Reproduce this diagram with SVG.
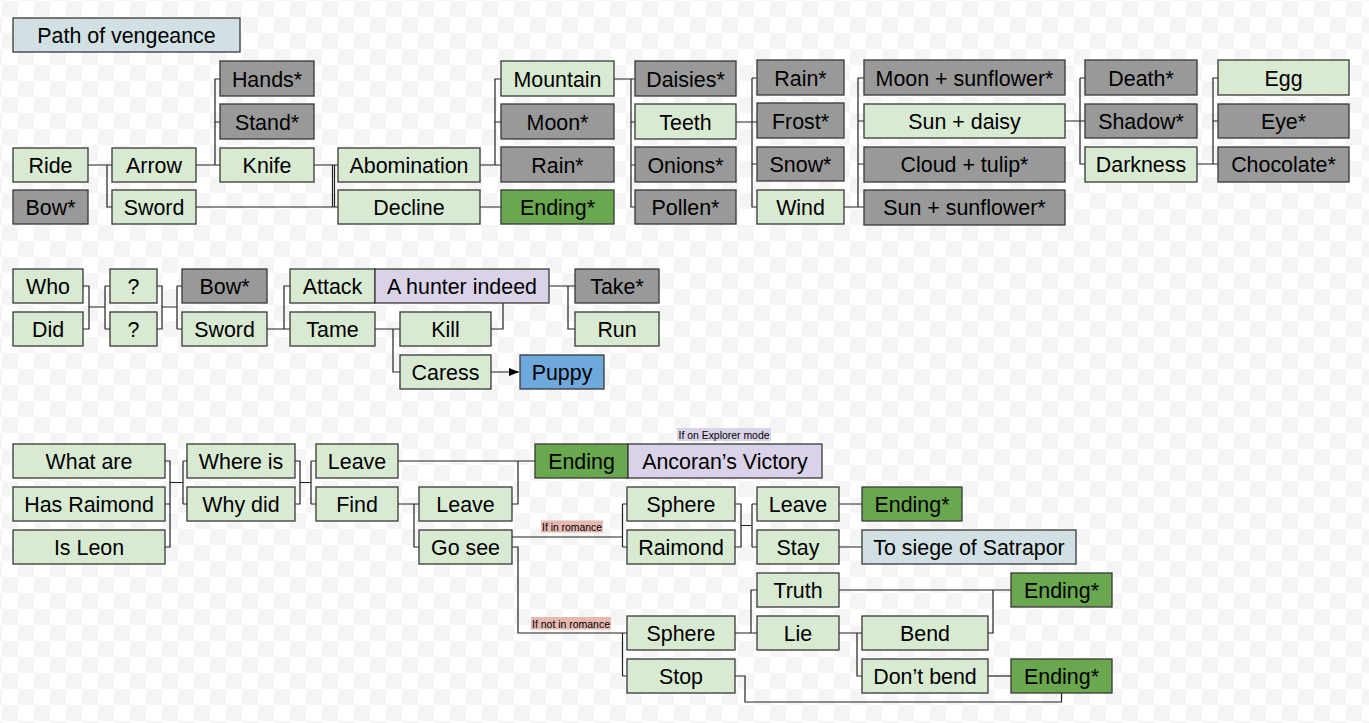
<svg xmlns="http://www.w3.org/2000/svg" width="1369" height="723" viewBox="0 0 1369 723">
<defs>
<pattern id="chk" patternUnits="userSpaceOnUse" x="2" y="1" width="32" height="32">
<rect width="32" height="32" fill="#ffffff"/>
<rect width="16" height="16" fill="#f5f5f5"/>
<rect x="16" y="16" width="16" height="16" fill="#f5f5f5"/>
</pattern>
<marker id="arr" markerUnits="userSpaceOnUse" markerWidth="12" markerHeight="10" refX="10" refY="4" orient="auto">
<path d="M0,0 L10,4 L0,8 z" fill="#000"/>
</marker>
</defs>
<style>
.n rect{stroke:#383838;stroke-width:1.3}
.g rect{fill:#d9ead3}
.x rect{fill:#999999}
.e rect{fill:#6aa84f}
.p rect{fill:#d9d2e9}
.b rect{fill:#d0e0e3}
.u rect{fill:#6fa8dc}
text{font-family:"Liberation Sans",Arial,sans-serif;font-size:21.4px;text-anchor:middle;fill:#000}
.c path{fill:none;stroke:#222;stroke-width:1.2}
.lbl text{font-size:11px}
</style>
<rect width="1369" height="723" fill="url(#chk)"/>

<g class="c" id="connectors">
<path d="M88,165 H112 M107,165 V207 H112"/>
<path d="M196,165 H220 M215,165 V79 H220 M215,122 H220"/>
<path d="M314,165 H338 M332.5,165 V207 H338 M196,207 H338 M334.5,207 V165"/>
<path d="M480,165 H501 M495,165 V79 H501 M495,122 H501 M480,207 H501"/>
<path d="M614,79 H635 M631,79 V207 H635 M631,122 H635 M631,165 H635"/>
<path d="M736,122 H757 M752,78 V207 H757 M752,78 H757 M752,164 H757"/>
<path d="M844,207 H864 M858,207 V78 H864 M858,121 H864 M858,164 H864"/>
<path d="M1065,121 H1085 M1080,78 V164 H1085 M1080,78 H1085"/>
<path d="M1197,164 H1218 M1213,164 V78 H1218 M1213,121 H1218"/>
<path d="M83,286 H89 V329 H83 M89,307 H105 M105,286 V329 M105,286 H110 M105,329 H110"/>
<path d="M157,286 H162 V329 H157 M162,307 H177 M177,286 V329 M177,286 H182 M177,329 H182"/>
<path d="M267,329 H290 M284,329 V286 H290"/>
<path d="M375,329 H400 M393,329 V372 H400"/>
<path d="M491,329 H503 V303"/>
<path d="M549,286 H575 M568,286 V329 H575"/>
<path d="M491,372 H519" marker-end="url(#arr)" style="stroke:#444"/>
<path d="M165,461 H170 V547 H165 M165,504 H170 M170,482.5 H183 M183,461 V504 M183,461 H187 M183,504 H187"/>
<path d="M295,461 H300 V504 H295 M300,482.5 H311 M311,461 V504 M311,461 H316 M311,504 H316"/>
<path d="M398,461 H535 M512,504 H518 V461"/>
<path d="M398,504 H419 M414,504 V547 H419"/>
<path d="M512,537 H622.5 M622.5,504 V547 M622.5,504 H627 M622.5,547 H627"/>
<path d="M512,547 H518 V633 H622.5 M622.5,633 V676 M622.5,633 H627 M622.5,676 H627"/>
<path d="M735,504 H741 V547 H735 M741,525.5 H752 M752,504 V547 M752,504 H757 M752,547 H757"/>
<path d="M839,504 H862 M839,547 H862"/>
<path d="M735,633 H757 M751,633 V590 H757"/>
<path d="M839,590 H1011 M988,633 H993 V590"/>
<path d="M839,633 H862 M857,633 V676 H862"/>
<path d="M988,676 H1011"/>
<path d="M735,676 H745 V702 H1061.5 V693"/>
</g>

<g class="lbl">
<g id="lbl-explorer"><rect x="677" y="428" width="94" height="13" fill="#d9d2e9"/><text x="724" y="438.5" textLength="91" lengthAdjust="spacingAndGlyphs">If on Explorer mode</text></g>
<g id="lbl-romance"><rect x="541" y="520.5" width="62" height="12" fill="#e6b8af"/><text x="572" y="530.5" textLength="60" lengthAdjust="spacingAndGlyphs">If in romance</text></g>
<g id="lbl-notromance"><rect x="531" y="617" width="80" height="12.5" fill="#e6b8af"/><text x="571" y="627.5" textLength="78" lengthAdjust="spacingAndGlyphs">If not in romance</text></g>
</g>

<g id="title" class="n b"><rect x="13" y="18" width="227" height="34"/><text x="126.5" y="43">Path of vengeance</text></g>
<g id="ride" class="n g"><rect x="13" y="148" width="75" height="34"/><text x="50.5" y="172.5">Ride</text></g>
<g id="bow1" class="n x"><rect x="13" y="190" width="75" height="34"/><text x="50.5" y="214.5">Bow*</text></g>
<g id="arrow" class="n g"><rect x="112" y="148" width="84" height="34"/><text x="154" y="172.5">Arrow</text></g>
<g id="sword1" class="n g"><rect x="112" y="190" width="84" height="34"/><text x="154" y="214.5">Sword</text></g>
<g id="hands" class="n x"><rect x="220" y="61" width="94" height="35"/><text x="267" y="86.5">Hands*</text></g>
<g id="stand" class="n x"><rect x="220" y="104" width="94" height="35"/><text x="267" y="129.5">Stand*</text></g>
<g id="knife" class="n g"><rect x="220" y="148" width="94" height="34"/><text x="267" y="172.5">Knife</text></g>
<g id="abomination" class="n g"><rect x="338" y="148" width="142" height="34"/><text x="409" y="172.5">Abomination</text></g>
<g id="decline" class="n g"><rect x="338" y="190" width="142" height="34"/><text x="409" y="214.5">Decline</text></g>
<g id="mountain" class="n g"><rect x="501" y="61" width="113" height="35"/><text x="557.5" y="86.5">Mountain</text></g>
<g id="moon" class="n x"><rect x="501" y="104" width="113" height="35"/><text x="557.5" y="129.5">Moon*</text></g>
<g id="rain1" class="n x"><rect x="501" y="147" width="113" height="35"/><text x="557.5" y="172.5">Rain*</text></g>
<g id="ending1" class="n e"><rect x="501" y="190" width="113" height="34"/><text x="557.5" y="214.5">Ending*</text></g>
<g id="daisies" class="n x"><rect x="635" y="61" width="101" height="35"/><text x="685.5" y="86.5">Daisies*</text></g>
<g id="teeth" class="n g"><rect x="635" y="104" width="101" height="35"/><text x="685.5" y="129.5">Teeth</text></g>
<g id="onions" class="n x"><rect x="635" y="147" width="101" height="35"/><text x="685.5" y="172.5">Onions*</text></g>
<g id="pollen" class="n x"><rect x="635" y="190" width="101" height="34"/><text x="685.5" y="214.5">Pollen*</text></g>
<g id="rain2" class="n x"><rect x="757" y="60" width="87" height="35"/><text x="800.5" y="85.5">Rain*</text></g>
<g id="frost" class="n x"><rect x="757" y="103" width="87" height="35"/><text x="800.5" y="128.5">Frost*</text></g>
<g id="snow" class="n x"><rect x="757" y="147" width="87" height="34"/><text x="800.5" y="171.5">Snow*</text></g>
<g id="wind" class="n g"><rect x="757" y="190" width="87" height="34"/><text x="800.5" y="214.5">Wind</text></g>
<g id="moonsun" class="n x"><rect x="864" y="60" width="201" height="35"/><text x="964.5" y="85.5">Moon + sunflower*</text></g>
<g id="sundaisy" class="n g"><rect x="864" y="104" width="201" height="34"/><text x="964.5" y="128.5">Sun + daisy</text></g>
<g id="cloud" class="n x"><rect x="864" y="147" width="201" height="35"/><text x="964.5" y="172">Cloud + tulip*</text></g>
<g id="sunsun" class="n x"><rect x="864" y="190" width="201" height="35"/><text x="964.5" y="215">Sun + sunflower*</text></g>
<g id="death" class="n x"><rect x="1085" y="60" width="112" height="35"/><text x="1141" y="85.5">Death*</text></g>
<g id="shadow" class="n x"><rect x="1085" y="104" width="112" height="34"/><text x="1141" y="128.5">Shadow*</text></g>
<g id="darkness" class="n g"><rect x="1085" y="147" width="112" height="35"/><text x="1141" y="172">Darkness</text></g>
<g id="egg" class="n g"><rect x="1218" y="60" width="131" height="35"/><text x="1283.5" y="85.5">Egg</text></g>
<g id="eye" class="n x"><rect x="1218" y="104" width="131" height="34"/><text x="1283.5" y="128.5">Eye*</text></g>
<g id="chocolate" class="n x"><rect x="1218" y="147" width="131" height="35"/><text x="1283.5" y="172">Chocolate*</text></g>

<g id="who" class="n g"><rect x="13" y="269" width="70" height="34"/><text x="48" y="293.5">Who</text></g>
<g id="did" class="n g"><rect x="13" y="312" width="70" height="34"/><text x="48" y="336.5">Did</text></g>
<g id="q1" class="n g"><rect x="110" y="269" width="47" height="34"/><text x="133.5" y="293.5">?</text></g>
<g id="q2" class="n g"><rect x="110" y="312" width="47" height="34"/><text x="133.5" y="336.5">?</text></g>
<g id="bow2" class="n x"><rect x="182" y="269" width="85" height="34"/><text x="224.5" y="293.5">Bow*</text></g>
<g id="sword2" class="n g"><rect x="182" y="312" width="85" height="34"/><text x="224.5" y="336.5">Sword</text></g>
<g id="attack" class="n g"><rect x="290" y="269" width="85" height="34"/><text x="332.5" y="293.5">Attack</text></g>
<g id="hunter" class="n p"><rect x="375" y="269" width="174" height="34"/><text x="462" y="293.5">A hunter indeed</text></g>
<g id="tame" class="n g"><rect x="290" y="312" width="85" height="34"/><text x="332.5" y="336.5">Tame</text></g>
<g id="kill" class="n g"><rect x="400" y="312" width="91" height="34"/><text x="445.5" y="336.5">Kill</text></g>
<g id="caress" class="n g"><rect x="400" y="355" width="91" height="34"/><text x="445.5" y="379.5">Caress</text></g>
<g id="puppy" class="n u"><rect x="520" y="355" width="84" height="34"/><text x="562" y="379.5">Puppy</text></g>
<g id="take" class="n x"><rect x="575" y="269" width="84" height="34"/><text x="617" y="293.5">Take*</text></g>
<g id="run" class="n g"><rect x="575" y="312" width="84" height="34"/><text x="617" y="336.5">Run</text></g>

<g id="whatare" class="n g"><rect x="13" y="444" width="152" height="34"/><text x="89" y="468.5">What are</text></g>
<g id="hasraimond" class="n g"><rect x="13" y="487" width="152" height="34"/><text x="89" y="511.5">Has Raimond</text></g>
<g id="isleon" class="n g"><rect x="13" y="530" width="152" height="34"/><text x="89" y="554.5">Is Leon</text></g>
<g id="whereis" class="n g"><rect x="187" y="444" width="108" height="34"/><text x="241" y="468.5">Where is</text></g>
<g id="whydid" class="n g"><rect x="187" y="487" width="108" height="34"/><text x="241" y="511.5">Why did</text></g>
<g id="leave1" class="n g"><rect x="316" y="444" width="82" height="34"/><text x="357" y="468.5">Leave</text></g>
<g id="find" class="n g"><rect x="316" y="487" width="82" height="34"/><text x="357" y="511.5">Find</text></g>
<g id="leave2" class="n g"><rect x="419" y="487" width="93" height="34"/><text x="465.5" y="511.5">Leave</text></g>
<g id="gosee" class="n g"><rect x="419" y="530" width="93" height="34"/><text x="465.5" y="554.5">Go see</text></g>
<g id="ending2" class="n e"><rect x="535" y="444" width="93" height="34"/><text x="581.5" y="468.5">Ending</text></g>
<g id="ancoran" class="n p"><rect x="628" y="444" width="194" height="34"/><text x="725" y="468.5">Ancoran’s Victory</text></g>
<g id="sphere1" class="n g"><rect x="627" y="487" width="108" height="34"/><text x="681" y="511.5">Sphere</text></g>
<g id="raimond" class="n g"><rect x="627" y="530" width="108" height="34"/><text x="681" y="554.5">Raimond</text></g>
<g id="leave3" class="n g"><rect x="757" y="487" width="82" height="34"/><text x="798" y="511.5">Leave</text></g>
<g id="stay" class="n g"><rect x="757" y="530" width="82" height="34"/><text x="798" y="554.5">Stay</text></g>
<g id="ending3" class="n e"><rect x="862" y="487" width="100" height="34"/><text x="912" y="511.5">Ending*</text></g>
<g id="siege" class="n b"><rect x="862" y="530" width="214" height="34"/><text x="969" y="554.5">To siege of Satrapor</text></g>
<g id="truth" class="n g"><rect x="757" y="573" width="82" height="34"/><text x="798" y="597.5">Truth</text></g>
<g id="lie" class="n g"><rect x="757" y="616" width="82" height="34"/><text x="798" y="640.5">Lie</text></g>
<g id="sphere2" class="n g"><rect x="627" y="616" width="108" height="34"/><text x="681" y="640.5">Sphere</text></g>
<g id="stop" class="n g"><rect x="627" y="659" width="108" height="34"/><text x="681" y="683.5">Stop</text></g>
<g id="bend" class="n g"><rect x="862" y="616" width="126" height="34"/><text x="925" y="640.5">Bend</text></g>
<g id="dontbend" class="n g"><rect x="862" y="659" width="126" height="34"/><text x="925" y="683.5">Don’t bend</text></g>
<g id="ending4" class="n e"><rect x="1011" y="573" width="101" height="34"/><text x="1061.5" y="597.5">Ending*</text></g>
<g id="ending5" class="n e"><rect x="1011" y="659" width="101" height="34"/><text x="1061.5" y="683.5">Ending*</text></g>
</svg>
